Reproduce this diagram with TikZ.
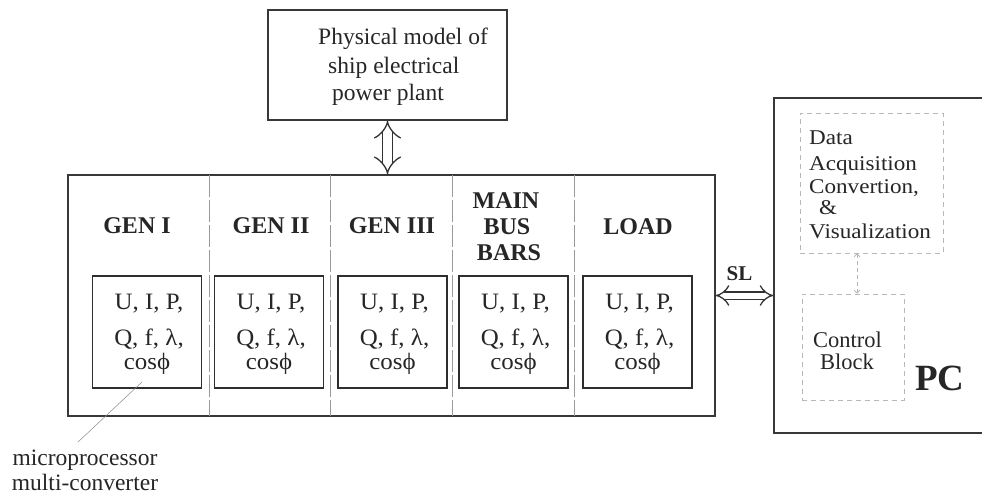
\documentclass[tikz,border=0pt]{standalone}
\usepackage{fontspec}
\setmainfont{Liberation Serif}
\newfontfamily\wideserif[FakeStretch=1.1]{Liberation Serif}
\newfontfamily\cellserif[FakeStretch=1.06]{Liberation Serif}
\usetikzlibrary{arrows.meta}

\begin{document}
\begin{tikzpicture}[x=1pt, y=-1pt,
  frame/.style={draw=black!78, line width=1.2pt, inner sep=0pt},
  cell/.style={draw=black!82, line width=1.4pt, inner sep=0pt,
               minimum width=109pt, minimum height=112pt},
  divider/.style={draw=black!40, line width=0.6pt, dash pattern=on 22pt off 3pt},
  softbox/.style={draw=black!28, line width=0.8pt, dash pattern=on 5pt off 4pt, inner sep=0pt},
  txt/.style={text=black!85, inner sep=0pt, anchor=base,
              font=\fontsize{23.5}{28}\selectfont},
  celltxt/.style={txt, font=\cellserif\fontsize{23.5}{28}\selectfont},
  head/.style={txt, font=\bfseries\fontsize{24}{26}\selectfont},
  pctxt/.style={txt, anchor=base west, font=\wideserif\fontsize{21}{24}\selectfont},
  link/.style={draw=black!80, line width=1.3pt, double,
               {Implies[length=7pt,width=27pt]}-{Implies[length=7pt,width=27pt]}},
  leader/.style={draw=black!45, line width=0.5pt},
  softlink/.style={draw=black!30, line width=0.7pt, dash pattern=on 4pt off 3pt,
               {Straight Barb[length=3pt,width=6pt]}-{Straight Barb[length=3pt,width=6pt]}}
]
\useasboundingbox[fill=white] (0,0) rectangle (982,494);

% physical model box
\node[frame, minimum width=239pt, minimum height=110pt] (plant) at (387.5,65) {};
\node[txt, anchor=base west] (plant1) at (318,45) {Physical model of};
\node[txt, anchor=base west] (plant2) at (328,74) {ship electrical};
\node[txt, anchor=base west] (plant3) at (332,101) {power plant};

% measuring frame with its sections
\node[frame, minimum width=647pt, minimum height=241pt] (main) at (391.5,295.5) {};
\foreach \x in {209,330,452,574}
  \draw[divider] (\x,175) -- (\x,416);

% section headers
\node[head] (h1) at (137,234) {GEN I};
\node[head] (h2) at (271,234) {GEN II};
\node[head] (h3) at (392,234) {GEN III};
\node[head] (h4a) at (506,209) {MAIN};
\node[head] (h4b) at (507,235) {BUS};
\node[head] (h4c) at (509,261) {BARS};
\node[head] (h5) at (638,235) {LOAD};

% multi-converter cells
\foreach \i/\x in {1/147,2/269,3/392.5,4/513.5,5/637.5}{
  \node[cell] (cell\i) at (\x,332) {};
  \node[celltxt] (ca\i) at (\x+2,309) {U, I, P,};
  \node[celltxt] (cb\i) at (\x+2,345) {Q, f, λ,};
  \node[celltxt] (cc\i) at (\x,369) {cosϕ};
}

% leader to the caption
\coordinate (lead1) at (142,382);
\coordinate (lead2) at (78,442);
\draw[leader] (lead1) -- (lead2);
\node[txt] (cap1) at (85,465) {microprocessor};
\node[txt] (cap2) at (85,490) {multi-converter};

% PC
\node[frame, minimum width=226pt, minimum height=335pt] (pc) at (887,265.5) {};
\node[softbox, minimum width=143pt, minimum height=140pt] (daq) at (871.5,183) {};
\node[softbox, minimum width=102pt, minimum height=106pt] (ctrl) at (853,347) {};
\foreach \y/\t [count=\k] in {145/Data, 171/Acquisition, 194/{Convertion,},
                               215/{\hspace*{10pt}\&}, 239/Visualization}
  \node[pctxt] (daq\k) at (809,\y) {\t};
\node[txt, anchor=base west, font=\fontsize{22.5}{24}\selectfont] (ctrl1) at (813,347) {Control};
\node[txt, anchor=base west, font=\fontsize{22.5}{24}\selectfont] (ctrl2) at (820,369) {Block};
\node[txt, anchor=base west, font=\bfseries\fontsize{37}{40}\selectfont] (pcl) at (915,390) {PC};
\draw[softlink] ([xshift=4pt]daq.south -| ctrl.north) -- ([xshift=4pt]ctrl.north);

% links
\draw[link, double distance=8.5pt] (plant.south) -- (plant.south |- main.north);
\draw[link, double distance=6pt] (main.east) -- (main.east -| pc.west);
\node[head, font=\bfseries\fontsize{21}{24}\selectfont] (sl) at (739.5,280) {SL};
\end{tikzpicture}
\end{document}
